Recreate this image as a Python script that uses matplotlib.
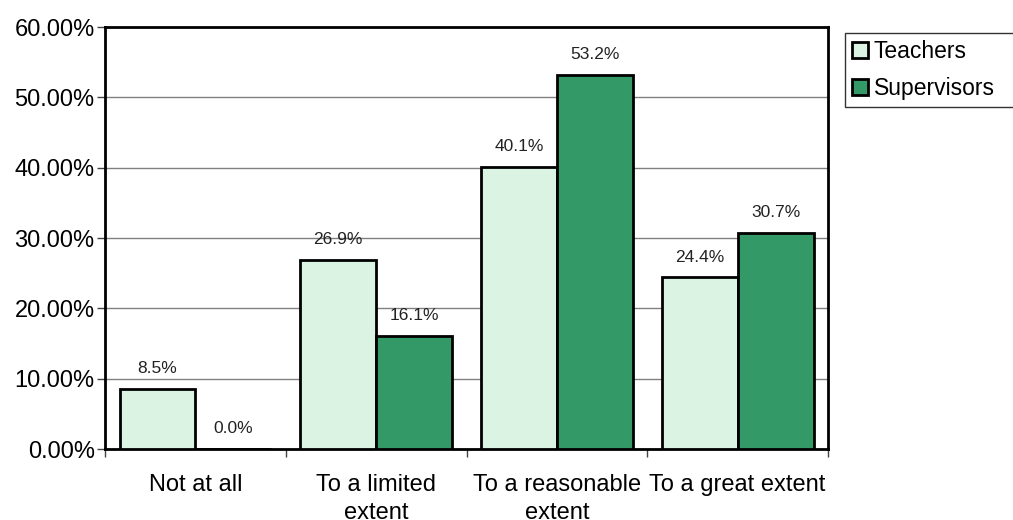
import matplotlib.pyplot as plt
import numpy as np

categories = ["Not at all", "To a limited\nextent", "To a reasonable\nextent", "To a great extent"]
teachers = [8.5, 26.9, 40.1, 24.4]
supervisors = [0.0, 16.1, 53.2, 30.7]
series_names = ["Teachers", "Supervisors"]
colors = ["#DAF3E3", "#339966"]

plt.rcParams['font.family'] = ['Liberation Sans', 'DejaVu Sans']

fig = plt.figure(figsize=(10.13, 5.2), dpi=100)
ax = fig.add_axes([0.1037, 0.1365, 0.7137, 0.8115])

x = np.arange(len(categories))
w = 0.42
for i, (vals, name, col) in enumerate(zip([teachers, supervisors], series_names, colors)):
    pos = x + (i - 0.5) * w
    ax.bar(pos, vals, w, color=col, edgecolor='black', linewidth=2, label=name, zorder=3)
    for xp, v in zip(pos, vals):
        ax.text(xp, v + 2.9, f"{v:.1f}%", ha='center', va='center', fontsize=12.5, color='#222222')

ax.set_xlim(-0.5, len(categories) - 0.5)
ax.set_ylim(0, 60)
ax.set_yticks(np.arange(0, 61, 10))
ax.set_yticklabels([f"{t:.2f}%" for t in np.arange(0, 61, 10)], fontsize=17)
ax.yaxis.grid(True, color='#808080', linewidth=1, zorder=0)
ax.set_axisbelow(True)

ax.set_xticks(x)
ax.set_xticklabels(categories, fontsize=17, linespacing=1.35)
ax.tick_params(axis='x', length=0, pad=18)
ax.set_xticks(np.arange(-0.5, len(categories)), minor=True)
ax.tick_params(axis='x', which='minor', length=6, width=1, color='#444444')
ax.tick_params(axis='y', length=6, width=1, color='#444444', pad=1.5)

for s in ax.spines.values():
    s.set_linewidth(2)
    s.set_color('black')

leg = fig.legend(loc='upper left', bbox_to_anchor=(845 / 1013, 1 - 33 / 520, 0.18, 0.0),
                 mode='expand', fontsize=16.5,
                 frameon=True, fancybox=False, handlelength=0.7, handleheight=0.7,
                 handletextpad=0.26, borderpad=0.3, labelspacing=0.6, borderaxespad=0)
leg.get_frame().set_edgecolor('black')
leg.get_frame().set_linewidth(1)
for p in leg.get_patches():
    p.set_linewidth(2)

fig.savefig("out.png", dpi=100)
